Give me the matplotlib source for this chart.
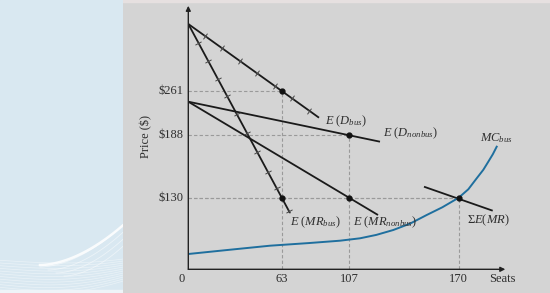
import matplotlib
matplotlib.use('Agg')
import matplotlib.pyplot as plt
from matplotlib.patches import Rectangle
import numpy as np

# diagram units: 1 unit = 1 pixel measured from the origin of the chart
x_tick_pos = [93.4, 160.7, 270.4]
x_tick_labels = ['63', '107', '170']
y_tick_pos = [178.6, 134.3, 71.6]
y_tick_labels = ['$261', '$188', '$130']

d_bus_x = [0, 130.7]
d_bus_y = [245.3, 151.6]
mr_bus_x = [0, 101.7]
mr_bus_y = [245.3, 56.3]
d_nonbus_x = [0, 191.7]
d_nonbus_y = [167.6, 127.6]
mr_nonbus_x = [0, 189.7]
mr_nonbus_y = [167.6, 54.3]
sum_mr_x = [235.7, 304.4]
sum_mr_y = [82.6, 58.6]

mc_x = [0, 40, 81.7, 120, 151.7, 171.7, 188, 205, 222, 238.4, 254, 270.4, 280, 288.4, 295, 300, 304.5, 308.4]
mc_y = [15.3, 19.4, 23.6, 26.2, 28.6, 31.0, 34.4, 39.3, 45.8, 54.3, 62.0, 71.6, 80.0, 91.0, 99.5, 107.6, 115.0, 122.6]

# hatch marks on the bus curves (x positions)
d_bus_hatch = [17, 33.4, 51.7, 68.4, 86.7, 103.4, 120.7]
mr_bus_hatch = [10, 19.7, 29.4, 38.7, 48.4, 58.4, 68.7, 79.4, 88.4, 100.7]

dot_x = [93.4, 160.7, 93.4, 160.7, 270.4]
dot_y = [178.6, 134.3, 71.6, 71.6, 71.6]

plt.rcParams['mathtext.fontset'] = 'custom'
plt.rcParams['mathtext.rm'] = 'Liberation Serif'
plt.rcParams['mathtext.it'] = 'Liberation Serif:italic'
plt.rcParams['font.family'] = ['Liberation Serif', 'DejaVu Serif']

W, H = 550, 293
ox, oy = 188.3, 23.7
fig = plt.figure(figsize=(5.5, 2.93), dpi=100)
fig.patch.set_facecolor('#d4d4d4')

# decorative left panel
panel_w = 123.3
pax = fig.add_axes([0, 0, panel_w / W, 1])
pax.set_xlim(0, panel_w)
pax.set_ylim(0, H)
pax.axis('off')
pax.add_patch(Rectangle((0, 0), panel_w, H, color='#d9e8f1', zorder=0))
t = np.linspace(0, 1, 80)
xs = t * panel_w
for i in range(12):
    y0 = 3 + i * 2.7
    y1 = 6 + i * 2.0
    ys = y0 + (y1 - y0) * t - 5 * np.sin(np.pi * t) * (1 - i / 14) + 6 * t ** 3
    pax.plot(xs, ys, color='white', lw=0.5, alpha=0.45)
u = np.linspace(0, 1, 80)
for k in range(4):
    pax.plot(40 + 8 * k + u * (83.3 - 8 * k), 26 - 3 * k + (42 - 4 * k) * u ** 1.8,
             color='white', lw=0.6, alpha=0.5)
pax.plot(40 + u * 83.3, 28 + 40 * u ** 1.8, color='white', lw=1.8, alpha=0.85)
pax.add_patch(Rectangle((0, 0), panel_w, 3, color='#eef4f8', zorder=3))
fig.add_artist(Rectangle((0, 1 - 2 / H), 1, 2 / H, transform=fig.transFigure,
                         color='#e6e0e0', zorder=0))

ax = fig.add_axes([ox / W, oy / H, 360 / W, 268 / H])
ax.set_xlim(0, 360)
ax.set_ylim(0, 268)
ax.axis('off')

# axes with arrows
ax.annotate('', xy=(0, 263.5), xytext=(0, 0),
            arrowprops=dict(arrowstyle='-|>', color='#222222', lw=1.0,
                            mutation_scale=7, shrinkA=0, shrinkB=0))
ax.annotate('', xy=(317, 0), xytext=(0, 0),
            arrowprops=dict(arrowstyle='-|>', color='#222222', lw=1.0,
                            mutation_scale=7, shrinkA=0, shrinkB=0))

# guide lines
for xp, yp in zip(dot_x[:2] + [270.4], dot_y[:2] + [71.6]):
    ax.plot([0, xp], [yp, yp], color='#9a9a9a', lw=0.8, dashes=(3, 2))
    ax.plot([xp, xp], [0, yp], color='#9a9a9a', lw=0.8, dashes=(3, 2))
ax.plot([0, 270.4], [71.6, 71.6], color='#9a9a9a', lw=0.8, dashes=(3, 2))

lc = '#1a1a1a'
for xs_, ys_ in [(d_bus_x, d_bus_y), (mr_bus_x, mr_bus_y), (d_nonbus_x, d_nonbus_y),
                 (mr_nonbus_x, mr_nonbus_y), (sum_mr_x, sum_mr_y)]:
    ax.plot(xs_, ys_, color=lc, lw=1.3, solid_capstyle='butt')

for hx, (xs_, ys_) in [(d_bus_hatch, (d_bus_x, d_bus_y)), (mr_bus_hatch, (mr_bus_x, mr_bus_y))]:
    slope = (ys_[1] - ys_[0]) / (xs_[1] - xs_[0])
    ang = np.degrees(np.arctan(slope))
    hy = [ys_[0] + slope * (h - xs_[0]) for h in hx]
    ax.plot(hx, hy, ls='none', marker=(2, 0, ang), markersize=5, mew=0.7, color='#444444')
    ax.plot(hx, hy, ls='none', marker=(2, 0, ang + 90), markersize=3, mew=0.5, color='#555555')

ax.plot(mc_x, mc_y, color='#1f6f9e', lw=1.4)
ax.plot(dot_x, dot_y, ls='none', marker='o', markersize=3.5, color='#111111')

fs = 9
tc = '#2e2e2e'
for xp, lab in zip(x_tick_pos, x_tick_labels):
    ax.text(xp, -9.5, lab, ha='center', va='center', fontsize=fs, color=tc, clip_on=False)
ax.text(-6.3, -9.5, '0', ha='center', va='center', fontsize=fs, color=tc, clip_on=False)
for yp, lab in zip(y_tick_pos, y_tick_labels):
    ax.text(-5, yp, lab, ha='right', va='center', fontsize=fs, color=tc, clip_on=False)
ax.text(-42.3, 132.3, 'Price ($)', rotation=90, ha='center', va='center', fontsize=fs,
        color=tc, clip_on=False)
ax.text(301, -9.5, 'Seats', ha='left', va='center', fontsize=fs, color=tc, clip_on=False)

ax.text(136.7, 148.3, r'$E\ (D_{bus})$', ha='left', va='center', fontsize=fs, color=tc)
ax.text(194.7, 136.3, r'$E\ (D_{nonbus})$', ha='left', va='center', fontsize=fs, color=tc)
ax.text(291.7, 131, r'$MC_{bus}$', ha='left', va='center', fontsize=fs, color=tc)
ax.text(278.4, 49.3, r'$\Sigma E(MR)$', ha='left', va='center', fontsize=fs, color=tc)
ax.text(164.4, 46.6, r'$E\ (MR_{nonbus})$', ha='left', va='center', fontsize=fs, color=tc)
ax.text(101.7, 46.6, r'$E\ (MR_{bus})$', ha='left', va='center', fontsize=fs, color=tc)

fig.savefig('out.png', dpi=100, facecolor=fig.get_facecolor())
